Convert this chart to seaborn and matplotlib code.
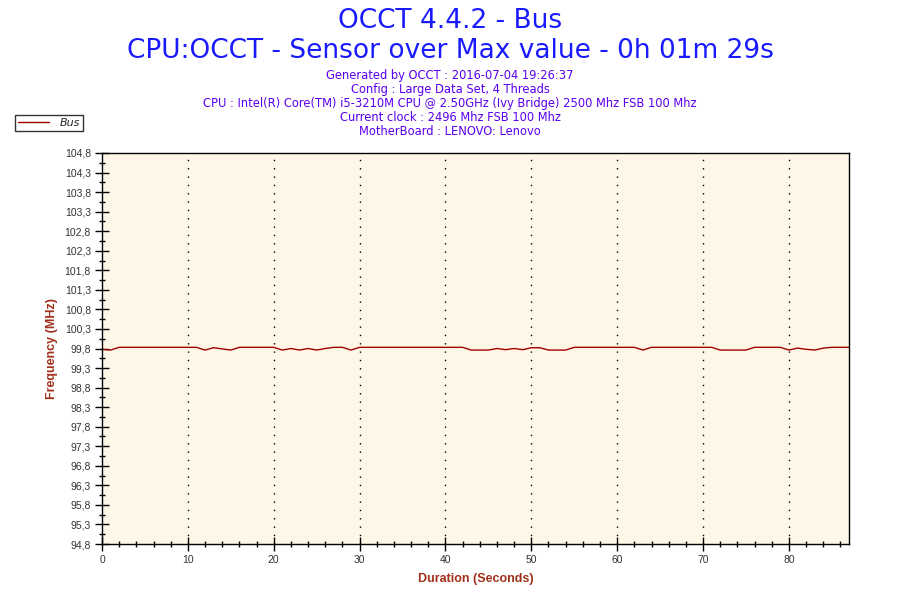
import numpy as np
import pandas as pd
import matplotlib
matplotlib.use('Agg')
import matplotlib.pyplot as plt
import seaborn as sns
from matplotlib.ticker import MultipleLocator, FixedLocator, FuncFormatter

# Bus frequency samples (MHz), one per second
seconds = list(range(0, 88))
bus_mhz = [
    99.78, 99.76, 99.83, 99.83, 99.83, 99.83, 99.83, 99.83, 99.83, 99.83,  # 0-9
    99.83, 99.83, 99.76, 99.82, 99.79, 99.76, 99.83, 99.83, 99.83, 99.83,  # 10-19
    99.83, 99.76, 99.80, 99.76, 99.80, 99.76, 99.80, 99.83, 99.83, 99.76,  # 20-29
    99.83, 99.83, 99.83, 99.83, 99.83, 99.83, 99.83, 99.83, 99.83, 99.83,  # 30-39
    99.83, 99.83, 99.83, 99.76, 99.76, 99.76, 99.80, 99.77, 99.80, 99.77,  # 40-49
    99.82, 99.82, 99.76, 99.76, 99.76, 99.83, 99.83, 99.83, 99.83, 99.83,  # 50-59
    99.83, 99.83, 99.83, 99.76, 99.83, 99.83, 99.83, 99.83, 99.83, 99.83,  # 60-69
    99.83, 99.83, 99.76, 99.76, 99.76, 99.76, 99.83, 99.83, 99.83, 99.83,  # 70-79
    99.76, 99.81, 99.78, 99.76, 99.81, 99.83, 99.83, 99.83,                # 80-87
]
y_ticks = [94.8 + 0.5 * i for i in range(21)]
x_ticks = [0, 10, 20, 30, 40, 50, 60, 70, 80]

df = pd.DataFrame({'Duration': seconds, 'Bus': bus_mhz})

sns.set_style('white')
plt.rcParams['font.family'] = ['DejaVu Sans']

line_col = '#A00000'
label_col = '#A0301A'
arial = 'Liberation Sans'

fig = plt.figure(figsize=(9, 6), dpi=100)
ax = fig.add_axes([102 / 900, 56 / 600, 747 / 900, 391 / 600])
ax.set_facecolor('#FEF7E8')

sns.lineplot(data=df, x='Duration', y='Bus', ax=ax, color=line_col,
             linewidth=1.0, label='Bus', legend=False)

ax.set_xlim(0, 87)
ax.set_ylim(94.8, 104.8)
ax.set_xticks(x_ticks)
ax.set_yticks(y_ticks)
ax.xaxis.set_minor_locator(MultipleLocator(2))
# one minor tick half way between each pair of labelled ticks
ax.yaxis.set_minor_locator(FixedLocator([(a + b) / 2 for a, b in zip(y_ticks[:-1], y_ticks[1:])]))
ax.yaxis.set_major_formatter(FuncFormatter(lambda v, p: f'{v:.1f}'.replace('.', ',')))
ax.tick_params(which='both', bottom=True, left=True)
ax.tick_params(which='major', direction='inout', length=10, width=1, color='black',
               labelsize=7.5, labelcolor='#333333')
ax.tick_params(which='minor', direction='inout', length=5, width=1, color='black')
ax.tick_params(axis='x', pad=3)
ax.tick_params(axis='y', pad=3)
for lab in ax.get_xticklabels() + ax.get_yticklabels():
    lab.set_family(arial)

for xv in x_ticks[1:]:
    ax.axvline(xv, color='black', linestyle=(0, (1, 5)), linewidth=1, zorder=1)

for s in ax.spines.values():
    s.set_color('black')
    s.set_linewidth(1)

ax.set_xlabel('Duration (Seconds)', color=label_col, fontweight='bold', fontsize=9,
              family=arial, labelpad=6)
ax.set_ylabel('Frequency (MHz)', color=label_col, fontweight='bold', fontsize=9,
              family=arial, labelpad=5)

# titles
fig.text(0.5, 1 - 21 / 600, 'OCCT 4.4.2 - Bus', ha='center', va='center',
         fontsize=19, color='#1A1AFF')
fig.text(0.5, 1 - 51 / 600, 'CPU:OCCT - Sensor over Max value - 0h 01m 29s', ha='center',
         va='center', fontsize=19, color='#1A1AFF')
sub_lines = [
    'Generated by OCCT : 2016-07-04 19:26:37',
    'Config : Large Data Set, 4 Threads',
    'CPU : Intel(R) Core(TM) i5-3210M CPU @ 2.50GHz (Ivy Bridge) 2500 Mhz FSB 100 Mhz',
    'Current clock : 2496 Mhz FSB 100 Mhz',
    'MotherBoard : LENOVO: Lenovo',
]
for i, txt in enumerate(sub_lines):
    fig.text(0.5, 1 - (76 + 13.8 * i) / 600, txt, ha='center', va='center',
             fontsize=8.3, color='#5A00F0')

leg = fig.legend(handles=ax.get_lines()[:1], labels=['Bus'], loc='upper left',
                 bbox_to_anchor=(15 / 900, 1 - 115 / 600), frameon=True, fancybox=False,
                 prop={'style': 'italic', 'size': 8}, handlelength=2.8, borderpad=0.25,
                 handletextpad=1.0, borderaxespad=0)
leg.get_frame().set_edgecolor('black')
leg.get_frame().set_linewidth(1)

fig.savefig('out.png', dpi=100)
